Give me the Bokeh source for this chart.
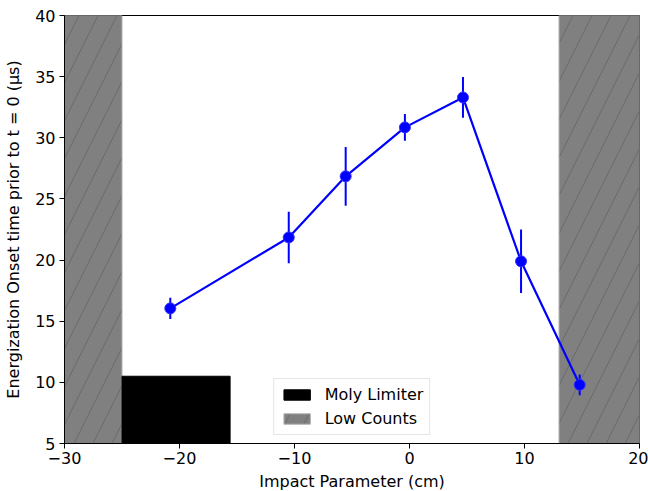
from bokeh.plotting import figure
from bokeh.models import FixedTicker, Range1d, Legend, LegendItem
from bokeh.embed import file_html
from bokeh.resources import INLINE

# Data
impact = [-20.8, -10.5, -5.55, -0.4, 4.65, 9.7, 14.8]
onset = [16.05, 21.85, 26.85, 30.85, 33.3, 19.9, 9.8]
err = [0.87, 2.1, 2.4, 1.1, 1.67, 2.6, 0.85]

low_left = [-30, 13]
low_right = [-25, 20]
moly_left = [-25]
moly_right = [-15.6]
moly_top = [10.5]

x_ticks = [-30, -20, -10, 0, 10, 20]
x_tick_labels = ["\u221230", "\u221220", "\u221210", "0", "10", "20"]
y_ticks = [5, 10, 15, 20, 25, 30, 35, 40]

FONT = "DejaVu Sans"
FS = "16px"

p = figure(frame_width=575, frame_height=428, output_backend="svg", toolbar_location=None,
           x_range=Range1d(-30, 20), y_range=Range1d(5, 40),
           min_border_left=64, min_border_top=15, min_border_right=9, min_border_bottom=48)
p.background_fill_color = "white"
p.border_fill_color = "white"
p.outline_line_color = "black"
p.outline_line_width = 1
p.xgrid.visible = False
p.ygrid.visible = False

low = p.quad(left=low_left, right=low_right, bottom=[5, 5], top=[40, 40],
             fill_color="#808080", line_color="#b0b0b0", line_width=1,
             hatch_pattern="/", hatch_color="#5a5a5a", hatch_scale=38, hatch_weight=0.6)
moly = p.quad(left=moly_left, right=moly_right, bottom=[5], top=moly_top,
              fill_color="black", line_color="black")

lo = [o - e for o, e in zip(onset, err)]
hi = [o + e for o, e in zip(onset, err)]
p.segment(x0=impact, y0=lo, x1=impact, y1=hi, line_color="blue", line_width=2)
p.line(impact, onset, line_color="blue", line_width=2.2)
p.scatter(impact, onset, size=11, fill_color="blue", line_color="#3030ff", line_width=1)

legend = Legend(items=[LegendItem(label="Moly Limiter", renderers=[moly]),
                       LegendItem(label="Low Counts", renderers=[low])],
                location="bottom_center")
legend.label_text_font = FONT
legend.label_text_font_size = FS
legend.label_text_color = "black"
legend.glyph_width = 33
legend.glyph_height = 13
legend.border_line_color = "#cccccc"
legend.border_line_width = 1
legend.background_fill_alpha = 0.9
legend.padding = 6
legend.spacing = 5
legend.margin = 8
legend.label_standoff = 12
p.add_layout(legend)

for ax in (p.xaxis, p.yaxis):
    ax.major_label_text_font = FONT
    ax.major_label_text_font_size = FS
    ax.axis_label_text_font = FONT
    ax.axis_label_text_font_size = FS
    ax.axis_label_text_font_style = "normal"
    ax.minor_tick_line_color = None
    ax.major_tick_out = 5
    ax.major_tick_in = 0
    ax.axis_line_color = "black"
    ax.major_label_text_color = "black"
    ax.axis_label_text_color = "black"

p.xaxis.ticker = FixedTicker(ticks=x_ticks)
p.xaxis.major_label_overrides = {t: l for t, l in zip(x_ticks, x_tick_labels)}
p.yaxis.ticker = FixedTicker(ticks=y_ticks)
p.xaxis.axis_label = "Impact Parameter (cm)"
p.yaxis.axis_label = "Energization Onset time prior to t = 0 (\u03bcs)"
p.xaxis.axis_label_standoff = 5
p.yaxis.axis_label_standoff = 9
p.xaxis.major_label_standoff = 3
p.yaxis.major_label_standoff = 4

open("out.html", "w").write(file_html(p, INLINE))
